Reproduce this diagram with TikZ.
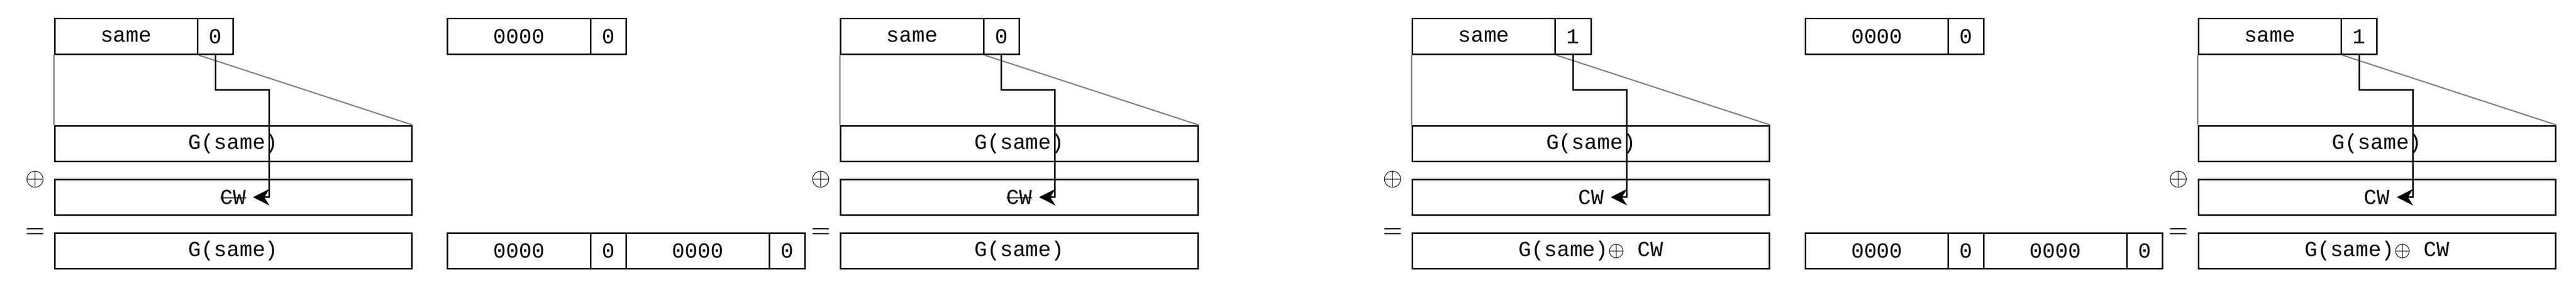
\documentclass[tikz,border=0pt]{standalone}
\usepackage{fontspec}
\setmonofont{Liberation Mono}
\usepackage{amsmath}
\usetikzlibrary{arrows.meta, positioning}

\newcommand{\struck}[1]{\setbox0\hbox{#1}\rlap{\raisebox{0.5ex}{\rule{\wd0}{0.5pt}}}\box0}

\tikzset{
  cell/.style={draw, line width=0.6pt, rectangle, inner sep=0pt, minimum height=0.5cm,
    font=\ttfamily\fontsize{8.5}{10}\selectfont},
  wide/.style={cell, minimum width=2cm},
  flag/.style={cell, minimum width=0.5cm},
  row/.style={cell, minimum width=5cm},
  guide/.style={gray, line width=0.5pt},
  flow/.style={line width=0.6pt, -{Stealth[length=6.5pt, width=6.5pt, inset=2pt]}},
  sym/.style={inner sep=0pt}
}

\begin{document}
\begin{tikzpicture}[x=0.5cm, y=0.5cm]
  \useasboundingbox (-1.53, -0.53) rectangle (70.57, 7.52);

  % first panel: flag 0
  \node[wide] (s1) at (2, 6.5) {same};
  \node[flag] (f1) at (4.5, 6.5) {0};
  \node[row] (g1) at (5, 3.5) {G(same)};
  \node[row] (c1) at (5, 2) {\struck{CW}};
  \node[row] (o1) at (5, 0.5) {G(same)};
  \node[sym] (x1) at (-0.55, 2.5) {$\oplus$};
  \node[sym] (e1) at (-0.55, 1) {$=$};
  \coordinate (m1) at (6, 5);
  \coordinate (a1) at (5.55, 2);
  \draw[guide] (s1.south west) -- (g1.north west);
  \draw[guide] (s1.south east) -- (g1.north east);
  \draw[flow] (f1.south) |- (m1) |- (a1);

  % second panel
  \node[wide] (p2a) at (13, 6.5) {0000};
  \node[flag] (p2b) at (15.5, 6.5) {0};
  \node[wide] (q2a) at (13, 0.5) {0000};
  \node[flag] (q2b) at (15.5, 0.5) {0};
  \node[wide] (q2c) at (18, 0.5) {0000};
  \node[flag] (q2d) at (20.5, 0.5) {0};

  % third panel: flag 0
  \begin{scope}[shift={(22, 0)}]
    \node[wide] (s3) at (2, 6.5) {same};
    \node[flag] (f3) at (4.5, 6.5) {0};
    \node[row] (g3) at (5, 3.5) {G(same)};
    \node[row] (c3) at (5, 2) {\struck{CW}};
    \node[row] (o3) at (5, 0.5) {G(same)};
    \node[sym] (x3) at (-0.55, 2.5) {$\oplus$};
    \node[sym] (e3) at (-0.55, 1) {$=$};
    \coordinate (m3) at (6, 5);
    \coordinate (a3) at (5.55, 2);
    \draw[guide] (s3.south west) -- (g3.north west);
    \draw[guide] (s3.south east) -- (g3.north east);
    \draw[flow] (f3.south) |- (m3) |- (a3);
  \end{scope}

  % fourth panel: flag 1
  \begin{scope}[shift={(38, 0)}]
    \node[wide] (s4) at (2, 6.5) {same};
    \node[flag] (f4) at (4.5, 6.5) {1};
    \node[row] (g4) at (5, 3.5) {G(same)};
    \node[row] (c4) at (5, 2) {CW};
    \node[row] (o4) at (5, 0.5) {G(same)$\oplus$ CW};
    \node[sym] (x4) at (-0.55, 2.5) {$\oplus$};
    \node[sym] (e4) at (-0.55, 1) {$=$};
    \coordinate (m4) at (6, 5);
    \coordinate (a4) at (5.55, 2);
    \draw[guide] (s4.south west) -- (g4.north west);
    \draw[guide] (s4.south east) -- (g4.north east);
    \draw[flow] (f4.south) |- (m4) |- (a4);
  \end{scope}

  % fifth panel
  \node[wide] (p5a) at (51, 6.5) {0000};
  \node[flag] (p5b) at (53.5, 6.5) {0};
  \node[wide] (q5a) at (51, 0.5) {0000};
  \node[flag] (q5b) at (53.5, 0.5) {0};
  \node[wide] (q5c) at (56, 0.5) {0000};
  \node[flag] (q5d) at (58.5, 0.5) {0};

  % sixth panel: flag 1
  \begin{scope}[shift={(60, 0)}]
    \node[wide] (s6) at (2, 6.5) {same};
    \node[flag] (f6) at (4.5, 6.5) {1};
    \node[row] (g6) at (5, 3.5) {G(same)};
    \node[row] (c6) at (5, 2) {CW};
    \node[row] (o6) at (5, 0.5) {G(same)$\oplus$ CW};
    \node[sym] (x6) at (-0.55, 2.5) {$\oplus$};
    \node[sym] (e6) at (-0.55, 1) {$=$};
    \coordinate (m6) at (6, 5);
    \coordinate (a6) at (5.55, 2);
    \draw[guide] (s6.south west) -- (g6.north west);
    \draw[guide] (s6.south east) -- (g6.north east);
    \draw[flow] (f6.south) |- (m6) |- (a6);
  \end{scope}
\end{tikzpicture}
\end{document}
